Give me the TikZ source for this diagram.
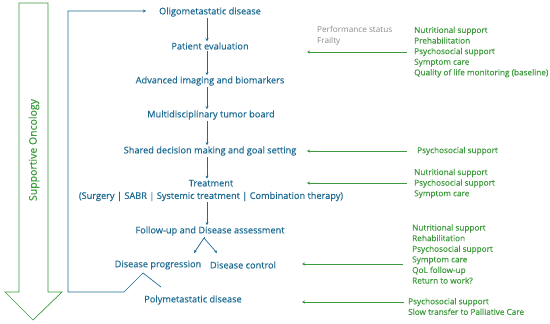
\documentclass[tikz,border=0pt]{standalone}
\usepackage{fontspec}
\setmainfont{Open Sans}
\usetikzlibrary{arrows.meta}
\definecolor{fblue}{HTML}{1D6B91}
\definecolor{fgreen}{HTML}{3C9A3C}
\definecolor{fgray}{HTML}{8A8A8A}
\tikzset{
  flow/.style={text=fblue,font=\fontsize{9.2}{12.5}\selectfont\addfontfeature{FakeBold=0.4},inner sep=1pt,align=center},
  glist/.style={text=fgreen,font=\fontsize{8.2}{10.6}\selectfont\addfontfeature{FakeBold=0.35},inner sep=0pt,anchor=west,align=left},
  glabel/.style={text=fgray,font=\fontsize{8.2}{10.8}\selectfont,inner sep=0pt,anchor=west,align=left},
  barrow/.style={draw=fblue,line width=0.7pt,-{Stealth[length=3pt,width=3pt]}},
  garrow/.style={draw=fgreen,line width=0.7pt,-{Stealth[length=3pt,width=3pt]}},
}
\begin{document}
\begin{tikzpicture}[x=1pt,y=-1pt]
\useasboundingbox (0,0) rectangle (550,324);
% big supportive oncology arrow
\draw[fgreen,line width=0.7pt] (19,3) -- (48,3) -- (48,292) -- (62,292) -- (33,320) -- (5,292) -- (19,292) -- cycle;
\node[text=fgreen,font=\fontsize{10.5}{12}\selectfont\addfontfeature{FakeBold=0.4},rotate=90,inner sep=0pt] (so) at (34,150) {Supportive Oncology};
% flow nodes
\node[flow] (oligo) at (210,12) {Oligometastatic disease};
\node[flow] (pe) at (210,46) {Patient evaluation};
\node[flow] (aib) at (210,81) {Advanced imaging and biomarkers};
\node[flow] (mtb) at (211,115) {Multidisciplinary tumor board};
\node[flow] (sdm) at (210,151) {Shared decision making and goal setting};
\node[flow] (tr) at (211,190.5) {Treatment\\(Surgery | SABR | Systemic treatment | Combination therapy)};
\node[flow] (fu) at (210,231) {Follow-up and Disease assessment};
\node[flow] (dp) at (158,265) {Disease progression};
\node[flow] (dc) at (243,265) {Disease control};
\node[flow] (poly) at (193,300) {Polymetastatic disease};
% vertical arrows
\draw[barrow] (oligo.south -| 207,0) -- (pe.north -| 207,0);
\draw[barrow] (pe.south -| 207,0) -- (aib.north -| 207,0);
\draw[barrow] (aib.south -| 207,0) -- (mtb.north -| 207,0);
\draw[barrow] (mtb.south -| 207,0) -- (sdm.north -| 207,0);
\draw[barrow] (sdm.south -| 207,0) -- (tr.north -| 207,0);
\draw[barrow] (tr.south -| 207,0) -- (fu.north -| 207,0);
\coordinate (fork) at (204,238);
\draw[barrow] (fork) -- (194,253);
\draw[barrow] (fork) -- (217,253);
\draw[draw=fblue,line width=0.7pt] (fu.south -| fork) -- (fork);
% feedback loop
\coordinate (fbstart) at (161,287);
\coordinate (fbend) at (146,11);
\draw[barrow] (fbstart) -- (143,273) -- (124,292) -- (68,292) -- (68,11) -- (fbend);
% right side
\node[glabel] (perf) at (317,35.5) {Performance status\\Frailty};
\node[glist] (l1) at (414,52) {Nutritional support\\Prehabilitation\\Psychosocial support\\Symptom care\\Quality of life monitoring (baseline)};
\node[glist] (l2) at (417,151) {Psychosocial support};
\node[glist] (l3) at (414,183.5) {Nutritional support\\Psychosocial support\\Symptom care};
\node[glist] (l4) at (412,254) {Nutritional support\\Rehabilitation\\Psychosocial support\\Symptom care\\QoL follow-up\\Return to work?};
\node[glist] (l5) at (408,306.5) {Psychosocial support\\Slow transfer to Palliative Care};
\coordinate (t1) at (307,52);
\coordinate (t2) at (307,151);
\coordinate (t3) at (307,183);
\coordinate (t4) at (302,264);
\coordinate (t5) at (302,302);
\draw[garrow] (407,52) -- (t1);
\draw[garrow] (407,151) -- (t2);
\draw[garrow] (407,183) -- (t3);
\draw[garrow] (403,264) -- (t4);
\draw[garrow] (404,302) -- (t5);
\end{tikzpicture}
\end{document}
